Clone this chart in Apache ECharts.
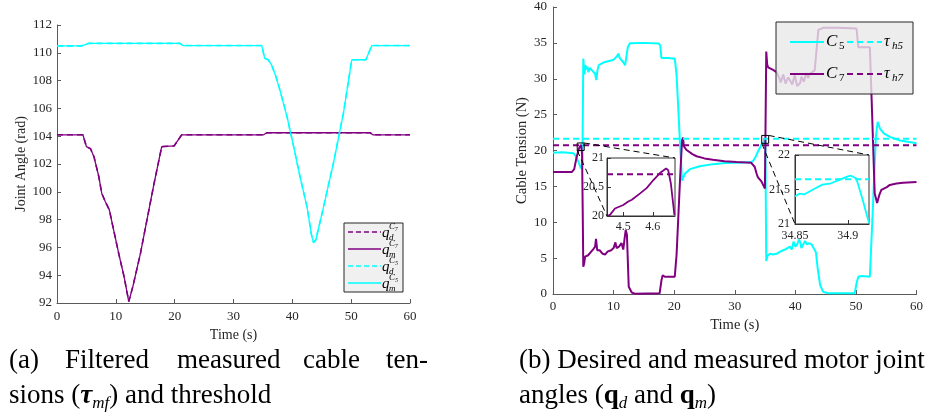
<!DOCTYPE html>
<html>
<head>
<meta charset="utf-8">
<title>Joint angle / cable tension</title>
<script src="https://cdn.jsdelivr.net/npm/echarts@6.0.0/dist/echarts.min.js"></script>
<style>
html, body { margin: 0; padding: 0; background: #fff; }
#main { width: 926px; height: 416px; }
</style>
</head>
<body>
<div id="main"></div>
<script>
// time axis (s)
var timeRange = [0, 60];

// joint angles (rad), [t, q]. desired and measured lie on top of each other
var jointC7 = [[0,104.1],[4.4,104.1],[5.0,103.25],[5.7,103.1],[6.3,102.5],[7.1,101.1],[7.6,99.9],[8.2,99.3],[8.9,98.7],[9.6,97.3],[10.6,95.35],[11.4,93.9],[12.2,92.1],[12.35,92.0],[12.9,93.2],[14.2,95.6],[15.3,98.0],[16.5,100.6],[17.8,103.25],[19.9,103.3],[21.2,104.1],[35.1,104.1],[35.7,104.25],[53.2,104.25],[53.7,104.1],[60,104.1]];
var jointC5 = [[0,110.5],[4.2,110.5],[5.4,110.68],[20.9,110.68],[21.4,110.52],[34.8,110.52],[35.3,109.6],[35.9,109.5],[36.5,109.1],[37.2,108.3],[37.9,107.3],[39.1,105.4],[40.2,103.3],[41.3,101.1],[42.5,98.9],[43.3,96.8],[43.6,96.35],[44.0,96.55],[45.3,98.9],[47.0,102.1],[48.7,105.7],[50.1,109.5],[52.5,109.5],[53.5,110.52],[60,110.52]];

// cable tensions (N), [t, tau]
var tensionC5 = [[0,19.7],[1.5,19.75],[3.4,19.6],[3.8,19.2],[4.3,18.2],[4.6,17.5],[4.85,18.3],[5.0,32.8],[5.2,30.6],[5.35,31.9],[5.5,31.3],[5.7,31.7],[5.85,30.9],[6.1,31.5],[6.4,31.2],[6.7,31.4],[6.95,30.7],[7.15,29.8],[7.35,31.2],[7.55,31.9],[8.0,32.1],[8.4,32.3],[8.9,32.4],[9.4,32.5],[9.9,32.6],[10.3,32.9],[10.6,33.2],[10.8,33.5],[11.0,32.9],[11.3,32.7],[11.6,32.3],[11.9,31.9],[12.1,31.7],[12.35,34.4],[12.7,34.95],[15.0,35.0],[17.5,34.9],[17.7,34.6],[17.9,32.9],[19.0,32.9],[20.1,32.8],[20.4,30.5],[20.7,25.5],[21.0,20.4],[21.3,15.8],[21.8,16.8],[22.6,17.4],[24.2,17.8],[26.4,18.1],[28.5,18.25],[30.3,18.3],[32.5,18.35],[33.0,18.5],[33.5,19.2],[33.8,19.8],[34.4,20.8],[34.8,21.2],[34.9,21.7],[35.05,21.3],[35.2,4.6],[35.4,5.3],[35.8,5.6],[36.3,5.5],[36.9,5.6],[37.5,5.9],[38.0,6.1],[38.5,6.3],[39.1,6.6],[39.4,6.2],[39.7,7.3],[40.0,6.6],[40.3,6.9],[40.6,7.6],[40.8,7.2],[41.0,6.4],[41.3,6.6],[41.6,7.4],[41.9,6.9],[42.3,7.1],[42.7,6.9],[43.0,7.0],[43.4,5.8],[43.7,3.5],[44.1,1.2],[44.6,0.3],[45.4,0.1],[49.8,0.1],[50.1,1.5],[50.4,2.4],[51.0,2.5],[52.3,2.4],[52.8,12],[53.3,22],[53.6,24.0],[54.0,23.0],[54.6,22.4],[55.6,21.9],[57.3,21.4],[60,21.0]];
var tensionC7 = [[0,17.0],[3.1,17.0],[3.5,17.4],[3.9,19.1],[4.3,20.3],[4.64,20.8],[4.8,19.5],[4.9,12],[5.0,3.8],[5.15,4.3],[5.3,5.2],[5.8,5.4],[6.3,5.9],[6.7,6.3],[6.95,6.6],[7.1,7.7],[7.3,6.1],[7.7,6.1],[8.2,5.6],[8.6,5.5],[9.0,5.9],[9.6,6.1],[10.0,6.4],[10.3,7.2],[10.5,6.4],[10.9,6.6],[11.3,7.1],[11.6,6.2],[11.8,7.6],[12.0,8.9],[12.2,8.3],[12.5,1.0],[13.0,0.2],[13.5,0.05],[17.6,0.1],[17.9,1.9],[18.1,2.6],[18.5,2.4],[20.1,2.4],[20.4,5.5],[20.7,11],[21.0,16.5],[21.3,21.4],[21.45,21.8],[21.6,20.6],[22.0,20.1],[23.0,19.5],[23.7,19.2],[25.0,18.9],[26.4,18.7],[28.3,18.5],[30.3,18.4],[32.7,18.3],[33.3,17.7],[33.6,16.8],[33.8,16.3],[34.4,15.7],[34.8,15.0],[34.98,14.7],[35.1,25],[35.2,33.8],[35.35,32.0],[35.5,31.6],[35.8,31.4],[36.4,31.2],[36.9,30.9],[37.3,30.2],[37.6,29.5],[38.0,30.6],[38.4,29.3],[38.8,30.2],[39.1,29.8],[39.5,29.2],[39.9,30.5],[40.3,29.0],[40.8,29.4],[41.0,30.3],[41.4,29.6],[41.8,30.8],[42.1,30.1],[42.4,30.7],[42.8,30.9],[43.2,31.2],[43.5,31.4],[43.8,36.8],[44.6,37.1],[47.0,37.1],[50.1,37.0],[50.4,34.4],[52.3,34.4],[52.6,27],[53.1,14],[53.5,12.7],[53.9,13.9],[54.2,14.5],[55.1,14.9],[55.6,15.2],[56.7,15.4],[57.8,15.5],[60,15.6]];

// thresholds (N)
var tauH5 = 21.65;
var tauH7 = 20.72;

// zoomed views
var zoom1Range = [4.445, 4.675];
var zoom1Ticks = [4.5, 4.6];
var zoom1C7 = [[4.445,20.0],[4.455,20.02],[4.472,20.13],[4.5,20.19],[4.517,20.25],[4.529,20.28],[4.557,20.39],[4.579,20.48],[4.602,20.62],[4.624,20.74],[4.645,20.82],[4.652,20.79],[4.661,20.56],[4.673,20.02]];
var zoom2Range = [34.85, 34.92];
var zoom2Ticks = [34.85, 34.9];
var zoom2C5 = [[34.85,21.4],[34.854,21.44],[34.859,21.43],[34.867,21.5],[34.876,21.57],[34.884,21.59],[34.892,21.64],[34.9,21.69],[34.903,21.7],[34.908,21.66],[34.914,21.35],[34.92,21.01]];

var FONT = "'Liberation Serif', 'Times New Roman', serif";
var PURPLE = '#800080';
var CYAN = '#00ffff';
var INK = '#262626';

function deepMerge(a, b) {
  for (var k in b) {
    if (b[k] && typeof b[k] === 'object' && !Array.isArray(b[k]) && a[k] && typeof a[k] === 'object') {
      deepMerge(a[k], b[k]);
    } else {
      a[k] = b[k];
    }
  }
  return a;
}

function axis(extra) {
  return deepMerge({
    type: 'value',
    axisLine: { show: true, onZero: false, lineStyle: { color: '#5a5a5a', width: 1 } },
    axisTick: { show: true, inside: true, length: 4, lineStyle: { color: '#5a5a5a' } },
    axisLabel: { color: INK, fontFamily: FONT, fontSize: 13 },
    splitLine: { show: false },
    nameLocation: 'middle',
    nameTextStyle: { color: INK, fontFamily: FONT, fontSize: 14 }
  }, extra);
}

function line(name, data, axisIdx, color, width, dashed) {
  return {
    name: name, type: 'line', data: data,
    xAxisIndex: axisIdx, yAxisIndex: axisIdx,
    symbol: 'none', animation: false, silent: true,
    lineStyle: { color: color, width: width, type: dashed ? [6, 4] : 'solid' }
  };
}

function flat(range, v) {
  return [[range[0], v], [range[1], v]];
}

var insetAxis = {
  axisLine: { lineStyle: { color: '#333' } },
  axisTick: { lineStyle: { color: '#333' } },
  axisLabel: { fontSize: 12 }
};

var option = {
  backgroundColor: '#fff',
  animation: false,
  grid: [
    { left: 57, top: 25, width: 353, height: 278 },
    { left: 553, top: 7, width: 364, height: 287 },
    { left: 607, top: 158, width: 68, height: 58, show: true, backgroundColor: '#fff', borderColor: '#333', borderWidth: 1 },
    { left: 795, top: 155, width: 74, height: 69, show: true, backgroundColor: '#fff', borderColor: '#333', borderWidth: 1 }
  ],
  xAxis: [
    axis({ gridIndex: 0, min: timeRange[0], max: timeRange[1], interval: 10, name: 'Time (s)', nameGap: 23, axisLabel: { margin: 7 } }),
    axis({ gridIndex: 1, min: timeRange[0], max: timeRange[1], interval: 10, name: 'Time (s)', nameGap: 24, axisLabel: { margin: 6 }, nameTextStyle: { fontSize: 14.5 } }),
    axis(deepMerge({ gridIndex: 2, min: zoom1Range[0], max: zoom1Range[1], axisLabel: { margin: 5, customValues: zoom1Ticks }, axisTick: { customValues: zoom1Ticks } }, insetAxis)),
    axis(deepMerge({ gridIndex: 3, min: zoom2Range[0], max: zoom2Range[1], axisLabel: { margin: 6, customValues: zoom2Ticks }, axisTick: { customValues: zoom2Ticks } }, insetAxis))
  ],
  yAxis: [
    axis({ gridIndex: 0, min: 92, max: 112, interval: 2, name: 'Joint Angle (rad)', nameGap: 28, axisLabel: { margin: 5 } }),
    axis({ gridIndex: 1, min: 0, max: 40, interval: 5, name: 'Cable Tension (N)', nameGap: 23, axisLabel: { margin: 6 }, nameTextStyle: { fontSize: 14.5 } }),
    axis(deepMerge({ gridIndex: 2, min: 20, max: 21, interval: 0.5, axisLabel: { margin: 3 } }, insetAxis)),
    axis(deepMerge({ gridIndex: 3, min: 21, max: 22, interval: 0.5, axisLabel: { margin: 5 } }, insetAxis))
  ],
  series: [
    line('qd C7', jointC7, 0, PURPLE, 1.6, true),
    line('qm C7', jointC7, 0, PURPLE, 1.3, false),
    line('qd C5', jointC5, 0, CYAN, 1.6, true),
    line('qm C5', jointC5, 0, CYAN, 1.3, false),

    line('C5', tensionC5, 1, CYAN, 2, false),
    line('C7', tensionC7, 1, PURPLE, 2, false),
    line('tau h5', flat(timeRange, tauH5), 1, CYAN, 2, true),
    line('tau h7', flat(timeRange, tauH7), 1, PURPLE, 2, true),

    line('C7 zoom', zoom1C7, 2, PURPLE, 1.8, false),
    line('tau h7 zoom', flat(zoom1Range, tauH7), 2, PURPLE, 2, true),
    line('C5 zoom', zoom2C5, 3, CYAN, 1.8, false),
    line('tau h5 zoom', flat(zoom2Range, tauH5), 3, CYAN, 2, true)
  ]
};

var chart = echarts.init(document.getElementById('main'), null, { renderer: 'canvas' });
chart.setOption(option);

// ---- legends, captions and zoom markers ----
var g = [];

function txt(x, y, text, size, italic, extra) {
  var s = { text: text, fontFamily: FONT, fontSize: size, fontStyle: italic ? 'italic' : 'normal', fill: '#000', align: 'left', verticalAlign: 'middle' };
  g.push({ type: 'text', x: x, y: y, z: 100, style: extra ? deepMerge(s, extra) : s });
}

function seg(x1, y1, x2, y2, color, width, dash) {
  g.push({ type: 'line', z: 100, shape: { x1: x1, y1: y1, x2: x2, y2: y2 }, style: { stroke: color, lineWidth: width, lineDash: dash || null } });
}

// left legend
g.push({ type: 'rect', z: 99, shape: { x: 344, y: 223, width: 59, height: 69 }, style: { fill: '#f0f0f0', stroke: INK, lineWidth: 1 } });
var legendLeft = [
  { sub: 'd', sup: 'C\u2087', color: PURPLE, dash: [5, 3] },
  { sub: 'm', sup: 'C\u2087', color: PURPLE, dash: null },
  { sub: 'd', sup: 'C\u2085', color: CYAN, dash: [5, 3] },
  { sub: 'm', sup: 'C\u2085', color: CYAN, dash: null }
];
legendLeft.forEach(function (e, i) {
  var ry = 232 + i * 17;
  seg(348, ry, 381, ry, e.color, 1.6, e.dash);
  txt(382, ry + 1, 'q', 15, true);
  txt(389, ry - 5, e.sup, 9, true);
  txt(389, ry + 6, e.sub, 9, true);
});

// right legend (semi-transparent box)
g.push({ type: 'rect', z: 99, shape: { x: 776, y: 22, width: 137, height: 72 }, style: { fill: 'rgba(232,232,232,0.8)', stroke: INK, lineWidth: 1 } });
var legendRight = [
  { name: 'C', idx: '5', color: CYAN },
  { name: 'C', idx: '7', color: PURPLE }
];
legendRight.forEach(function (e, i) {
  var ry = 42 + i * 32;
  seg(790, ry, 824, ry, e.color, 2, null);
  txt(826, ry, e.name, 17, true);
  txt(839, ry + 4, e.idx, 11, false);
  seg(847, ry, 882, ry, e.color, 2, [6, 4]);
  txt(884, ry, '\u03c4', 16, true);
  txt(892, ry + 4, 'h' + e.idx, 11, true);
});

// captions; the first line of (a) is justified, so its words are placed one by one
var capRich = {
  t: { fontFamily: FONT, fontSize: 27, fontWeight: 'bold', fontStyle: 'italic', lineHeight: 32 },
  q: { fontFamily: FONT, fontSize: 27, fontWeight: 'bold', lineHeight: 32 },
  s: { fontFamily: FONT, fontSize: 17, fontStyle: 'italic', lineHeight: 18, verticalAlign: 'bottom' }
};
var captionA1 = [['(a)', 9], ['Filtered', 65], ['measured', 177], ['cable', 303], ['ten-', 386]];
captionA1.forEach(function (w) { txt(w[1], 361, w[0], 27, false); });
var captionLines = [
  ['sions ({t|\u03c4}{s|mf}) and threshold', 9, 396],
  ['(b) Desired and measured motor joint', 519, 361],
  ['angles ({q|q}{s|d} and {q|q}{s|m})', 519, 396]
];
captionLines.forEach(function (w) {
  txt(w[1], w[2], w[0], 27, false, { lineHeight: 32, rich: capRich });
});

// zoom markers: small box on the main axes, dashed lines to the inset corners
function px(axisIdx, pt) {
  return chart.convertToPixel({ xAxisIndex: axisIdx, yAxisIndex: axisIdx }, pt);
}
var zooms = [
  { box: [[4.0, 21.05], [5.15, 20.0]], inset: 2, xr: zoom1Range, yr: [20, 21] },
  { box: [[34.45, 22.1], [35.6, 21.0]], inset: 3, xr: zoom2Range, yr: [21, 22] }
];
zooms.forEach(function (z) {
  var tl = px(1, z.box[0]);
  var br = px(1, z.box[1]);
  g.push({ type: 'rect', z: 100, shape: { x: tl[0], y: tl[1], width: br[0] - tl[0], height: br[1] - tl[1] }, style: { fill: 'none', stroke: '#000', lineWidth: 1 } });
  var itr = px(z.inset, [z.xr[1], z.yr[1]]);
  var ibl = px(z.inset, [z.xr[0], z.yr[0]]);
  seg(br[0], tl[1], itr[0], itr[1], '#000', 1, [6, 4]);
  seg(tl[0], br[1], ibl[0], ibl[1], '#000', 1, [6, 4]);
});

chart.setOption({ graphic: { elements: g } });
</script>
</body>
</html>
